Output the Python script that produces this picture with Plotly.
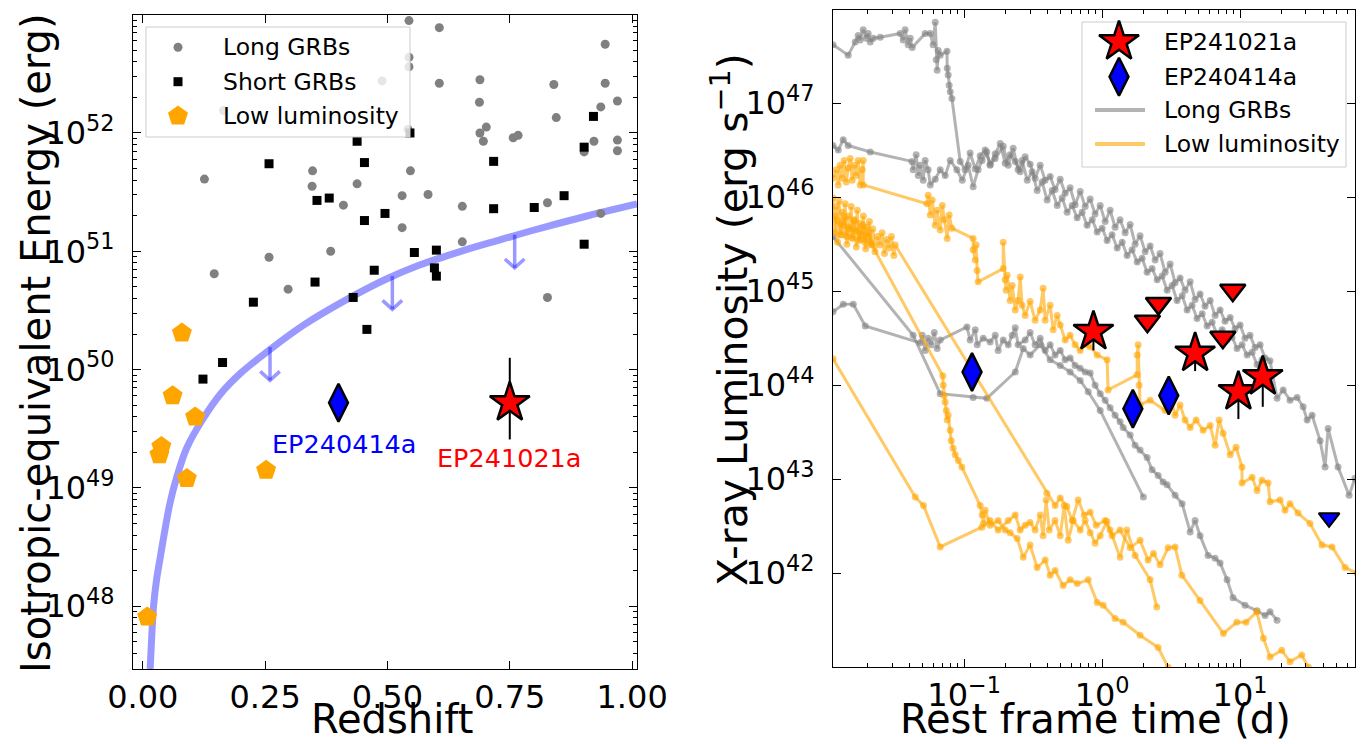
import plotly.graph_objects as go

# The page body adds an 8 px margin; the figure is sized so that it fills the 1366x744 window.
PAGE_W, PAGE_H, OFF = 1366, 744, 8
W, H = PAGE_W - OFF, PAGE_H - OFF

# ======================= LEFT PANEL DATA (redshift, log10 E_iso) =======================
long_z = [0.126, 0.347, 0.346, 0.438, 0.410, 0.384, 0.258, 0.165, 0.489, 0.544, 0.606, 0.544,
          0.544, 0.606, 0.689, 0.688, 0.702, 0.689, 0.696, 0.757, 0.767, 0.840, 0.845, 0.945,
          0.945, 0.970, 0.936, 0.922, 0.970, 0.970, 0.902, 0.547, 0.530, 0.583, 0.653, 0.827,
          0.936, 0.530, 0.653, 0.542, 0.146, 0.297, 0.827]
long_logE = [51.61, 51.68, 51.55, 51.57, 51.39, 51.00, 50.95, 52.19, 52.44, 52.95, 52.89, 52.64,
             52.56, 52.42, 52.45, 52.26, 52.05, 52.00, 51.93, 51.96, 51.98, 52.41, 52.13, 52.75,
             52.42, 52.27, 52.22, 51.93, 51.94, 51.85, 51.84, 51.68, 51.47, 51.48, 51.38, 51.41,
             51.32, 51.20, 51.08, 52.03, 50.81, 50.68, 50.61]

short_z = [0.258, 0.438, 0.453, 0.356, 0.381, 0.453, 0.495, 0.546, 0.717, 0.921, 0.902, 0.861,
           0.800, 0.717, 0.555, 0.600, 0.902, 0.226, 0.352, 0.430, 0.458, 0.473, 0.596, 0.600,
           0.163, 0.123]
short_logE = [51.74, 51.93, 51.75, 51.43, 51.45, 51.26, 51.32, 52.00, 51.76, 52.14, 51.88, 51.47,
              51.37, 51.36, 50.99, 51.01, 51.06, 50.57, 50.74, 50.61, 50.34, 50.84, 50.86, 50.79,
              50.06, 49.92]

lowlum_z = [0.080, 0.061, 0.107, 0.038, 0.034, 0.090, 0.252, 0.009]
lowlum_logE = [50.31, 49.78, 49.60, 49.35, 49.28, 49.08, 49.15, 47.91]

limit_curve_z = [0.015, 0.018, 0.022, 0.028, 0.036, 0.045, 0.056, 0.07, 0.09, 0.121,
                 0.16, 0.2, 0.26, 0.33, 0.42, 0.5, 0.563, 0.65, 0.733, 0.8, 0.9, 1.01]
limit_curve_logE = [47.47, 47.72, 48.0, 48.22, 48.42, 48.64, 48.88, 49.10, 49.34, 49.57,
                    49.80, 49.97, 50.17, 50.38, 50.60, 50.77, 50.88, 51.00, 51.10, 51.18, 51.29, 51.40]

limit_arrow_z = [0.26, 0.51, 0.76]
limit_arrow_logE = [50.19, 50.79, 51.14]
limit_arrow_len = 0.28  # dex

ep241021a_z, ep241021a_logE = 0.75, 49.72
ep241021a_logE_lo, ep241021a_logE_hi = 49.41, 50.10
ep240414a_z, ep240414a_logE = 0.40, 49.72

# ======================= RIGHT PANEL DATA (log10 t [d], log10 L_X) =======================
long_grb_1 = [(-1.951, 47.62), (-1.841, 47.51), (-1.790, 47.65), (-1.768, 47.72), (-1.754, 47.67),
    (-1.732, 47.78), (-1.710, 47.69), (-1.696, 47.74), (-1.681, 47.65), (-1.659, 47.69), (-1.609, 47.70),
    (-1.464, 47.74), (-1.442, 47.67), (-1.428, 47.78), (-1.406, 47.62), (-1.391, 47.69), (-1.377, 47.59),
    (-1.283, 47.74), (-1.246, 47.74), (-1.225, 47.62), (-1.210, 47.86), (-1.203, 47.46), (-1.196, 47.35),
    (-1.188, 47.56), (-1.174, 47.51), (-1.125, 47.55), (-1.123, 47.37), (-1.116, 47.30), (-1.109, 47.19),
    (-1.101, 47.12), (-1.089, 47.05), (-1.029, 46.38), (-0.993, 46.29), (-0.957, 46.47), (-0.920, 46.30),
    (-0.884, 46.44), (-0.848, 46.50), (-0.812, 46.35), (-0.775, 46.46), (-0.739, 46.57), (-0.703, 46.36),
    (-0.667, 46.45), (-0.630, 46.38), (-0.594, 46.27), (-0.558, 46.43), (-0.522, 46.35), (-0.486, 46.20),
    (-0.449, 46.34), (-0.413, 46.18), (-0.377, 46.22), (-0.341, 46.08), (-0.304, 46.19), (-0.268, 46.04),
    (-0.232, 46.10), (-0.196, 45.92), (-0.159, 46.06), (-0.123, 45.90), (-0.087, 45.98), (-0.051, 45.82),
    (-0.014, 45.91), (0.022, 45.74), (0.058, 45.86), (0.094, 45.68), (0.130, 45.76), (0.167, 45.62),
    (0.203, 45.71), (0.239, 45.50), (0.275, 45.59), (0.312, 45.42), (0.348, 45.48), (0.384, 45.33),
    (0.420, 45.40), (0.457, 45.20), (0.493, 45.29), (0.529, 45.09), (0.565, 45.14), (0.601, 45.01),
    (0.638, 45.10), (0.674, 44.91), (0.710, 44.97), (0.746, 44.84), (0.783, 44.90), (0.819, 44.74),
    (0.855, 44.80), (0.891, 44.68), (0.928, 44.72), (0.964, 44.60), (1.000, 44.64), (1.036, 44.50),
    (1.072, 44.53), (1.109, 44.40), (1.145, 44.43), (1.181, 44.29), (1.217, 44.26), (1.268, 43.86),
    (1.312, 43.95), (1.362, 43.84), (1.413, 43.87), (1.457, 43.77), (1.486, 43.63), (1.522, 43.68),
    (1.580, 43.41), (1.616, 43.13), (1.638, 43.54), (1.710, 43.13), (1.790, 42.83), (1.833, 43.01)]

long_grb_2 = [(-1.951, 46.55), (-1.913, 46.50), (-1.877, 46.61), (-1.841, 46.55), (-1.681, 46.48),
    (-1.379, 46.38), (-1.370, 46.29), (-1.348, 46.45), (-1.333, 46.23), (-1.319, 46.34), (-1.297, 46.18),
    (-1.283, 46.39), (-1.261, 46.29), (-1.246, 46.13), (-1.210, 46.19), (-1.174, 46.29), (-1.138, 46.23),
    (-1.101, 46.39), (-1.053, 46.29), (-1.014, 46.18), (-0.971, 46.34), (-0.935, 46.11), (-0.899, 46.29),
    (-0.870, 46.39), (-0.836, 46.48), (-0.812, 46.34), (-0.775, 46.41), (-0.717, 46.54), (-0.681, 46.34),
    (-0.645, 46.52), (-0.609, 46.29), (-0.580, 46.39), (-0.543, 46.18), (-0.507, 46.27), (-0.471, 46.07),
    (-0.435, 46.16), (-0.399, 45.97), (-0.362, 46.07), (-0.326, 45.91), (-0.290, 45.99), (-0.254, 45.84),
    (-0.217, 45.91), (-0.181, 45.78), (-0.145, 45.84), (-0.109, 45.70), (-0.072, 45.76), (-0.036, 45.63),
    (0.000, 45.67), (0.036, 45.54), (0.072, 45.60), (0.109, 45.46), (0.145, 45.52), (0.181, 45.38),
    (0.217, 45.44), (0.254, 45.31), (0.290, 45.35), (0.326, 45.20), (0.362, 45.24), (0.399, 45.12),
    (0.435, 45.16), (0.471, 45.01), (0.507, 45.06), (0.543, 44.90), (0.580, 44.95), (0.616, 44.80),
    (0.652, 44.85), (0.688, 44.71), (0.725, 44.76), (0.761, 44.63), (0.797, 44.67), (0.833, 44.54),
    (0.870, 44.59), (0.906, 44.48), (0.942, 44.51), (0.978, 44.39), (1.014, 44.43), (1.051, 44.32),
    (1.087, 44.35), (1.123, 44.22), (1.159, 44.27), (1.203, 44.14)]

long_grb_3 = [(-1.951, 44.78), (-1.877, 44.86), (-1.804, 44.86), (-1.717, 44.63), (-1.319, 44.45),
    (-1.304, 44.53), (-1.283, 44.37), (-1.261, 44.50), (-1.239, 44.43), (-1.217, 44.56), (-1.196, 44.39),
    (-1.174, 44.48), (-0.980, 44.62), (-0.957, 44.48), (-0.920, 44.59), (-0.906, 44.43), (-0.862, 44.50),
    (-0.812, 44.46), (-0.775, 44.53), (-0.754, 44.37), (-0.717, 44.48), (-0.681, 44.43), (-0.652, 44.53),
    (-0.630, 44.61), (-0.609, 44.43), (-0.558, 44.48), (-0.522, 44.56), (-0.486, 44.43), (-0.449, 44.50),
    (-0.413, 44.37), (-0.377, 44.43), (-0.341, 44.32), (-0.304, 44.37), (-0.268, 44.27), (-0.232, 44.29),
    (-0.196, 44.21), (-0.159, 44.18), (-0.123, 44.14), (-0.087, 44.13), (-0.051, 44.00), (-0.014, 43.91),
    (0.022, 43.84), (0.058, 43.76), (0.094, 43.68), (0.130, 43.61), (0.152, 43.55), (0.203, 43.47),
    (0.239, 43.36), (0.275, 43.31), (0.326, 43.23), (0.362, 43.10), (0.406, 43.04), (0.442, 42.97),
    (0.471, 42.94), (0.529, 42.83), (0.580, 42.74), (0.638, 42.44), (0.674, 42.56), (0.710, 42.40),
    (0.768, 42.19), (0.819, 42.16), (0.855, 42.11), (0.906, 41.93), (0.949, 41.74), (1.036, 41.66),
    (1.123, 41.60), (1.181, 41.55), (1.217, 41.59), (1.268, 41.50)]

long_grb_4 = [(-1.951, 45.58), (-1.370, 44.53), (-1.174, 43.91), (-0.935, 43.87), (-0.836, 43.86),
    (-0.630, 44.14), (-0.572, 44.39), (-0.522, 44.32), (-0.449, 44.43), (-0.377, 44.27), (-0.304, 44.21),
    (-0.232, 44.14), (-0.159, 44.05), (-0.101, 43.93), (-0.014, 43.73), (0.299, 42.81)]

lowlum_1 = [(-1.951, 46.20), (-1.928, 46.29), (-1.913, 46.13), (-1.899, 46.34), (-1.884, 46.20),
    (-1.870, 46.39), (-1.855, 46.16), (-1.841, 46.31), (-1.826, 46.41), (-1.812, 46.18), (-1.797, 46.34),
    (-1.783, 46.23), (-1.768, 46.39), (-1.754, 46.13), (-1.739, 46.29), (-1.732, 46.39), (-1.732, 46.13),
    (-1.270, 45.93), (-1.261, 46.02), (-1.246, 45.81), (-1.232, 45.97), (-1.210, 45.70), (-1.196, 45.86),
    (-1.174, 45.65), (-1.159, 45.91), (-1.145, 45.76), (-1.123, 45.56), (-1.109, 45.81), (-1.089, 45.67),
    (-0.935, 45.56), (-0.935, 45.44), (-0.920, 45.33), (-0.913, 45.49), (-0.906, 45.22), (-0.899, 45.10),
    (-0.717, 45.24), (-0.717, 45.52), (-0.703, 45.12), (-0.696, 45.01), (-0.688, 45.17), (-0.667, 44.90),
    (-0.652, 45.06), (-0.630, 44.80), (-0.609, 44.90), (-0.594, 45.15), (-0.580, 44.85), (-0.558, 44.74),
    (-0.522, 44.89), (-0.486, 44.69), (-0.449, 44.80), (-0.428, 45.03), (-0.413, 44.69), (-0.377, 44.85),
    (-0.355, 44.59), (-0.326, 44.74), (-0.304, 44.64), (-0.268, 44.48), (-0.232, 44.53), (-0.196, 44.43),
    (-0.159, 44.37), (-0.123, 44.43), (-0.087, 44.41), (-0.036, 44.32), (0.036, 44.27), (0.043, 43.95),
    (0.254, 44.11), (0.254, 44.32), (0.261, 44.43), (0.268, 44.00), (0.275, 43.79), (0.348, 43.84),
    (0.457, 43.73), (0.493, 43.89), (0.529, 43.68), (0.565, 43.79), (0.601, 43.63), (0.638, 43.55),
    (0.681, 43.63), (0.732, 43.52), (0.783, 43.57), (0.819, 43.36), (0.848, 43.63), (0.877, 43.49),
    (0.928, 43.26), (0.971, 43.34), (1.014, 43.13), (1.014, 42.96), (1.087, 43.02), (1.123, 42.88),
    (1.159, 42.99), (1.203, 42.96), (1.217, 42.76), (1.290, 42.78), (1.326, 42.67), (1.362, 42.74),
    (1.420, 42.64), (1.507, 42.53), (1.594, 42.30), (1.667, 42.28), (1.761, 42.06), (1.848, 42.00)]

lowlum_2 = [(-1.951, 45.99), (-1.940, 45.62), (-1.929, 45.90), (-1.918, 45.75), (-1.907, 45.96),
    (-1.896, 45.60), (-1.885, 45.84), (-1.874, 45.70), (-1.863, 45.93), (-1.852, 45.58), (-1.841, 45.80),
    (-1.830, 45.66), (-1.819, 45.90), (-1.808, 45.56), (-1.797, 45.76), (-1.786, 45.64), (-1.775, 45.86),
    (-1.764, 45.54), (-1.753, 45.72), (-1.742, 45.60), (-1.731, 45.80), (-1.720, 45.52), (-1.709, 45.68),
    (-1.698, 45.58), (-1.687, 45.74), (-1.676, 45.50), (-1.669, 45.49),
    (-1.155, 44.10), (-1.152, 44.00), (-1.145, 43.89), (-1.138, 43.82), (-1.130, 43.73), (-1.123, 43.63),
    (-1.116, 43.68), (-1.101, 43.52), (-1.094, 43.41), (-1.080, 43.33), (-1.065, 43.26), (-1.043, 43.20),
    (-1.017, 43.13), (-0.884, 42.72), (-0.870, 42.62), (-0.860, 42.53), (-0.848, 42.67), (-0.812, 42.51),
    (-0.754, 42.56), (-0.703, 42.46), (-0.667, 42.43), (-0.616, 42.37), (-0.572, 42.17), (-0.522, 42.30),
    (-0.471, 42.06), (-0.413, 42.14), (-0.377, 41.98), (-0.341, 42.03), (-0.283, 41.87), (-0.232, 41.93),
    (-0.181, 41.89), (-0.101, 41.93), (-0.036, 41.69), (0.007, 41.66), (0.094, 41.52), (0.152, 41.48),
    (0.275, 41.34), (0.406, 41.21), (0.478, 41.00)]

lowlum_3 = [(-1.935, 45.80), (-1.918, 45.52), (-1.901, 45.72), (-1.884, 45.60), (-1.867, 45.78),
    (-1.850, 45.50), (-1.833, 45.68), (-1.816, 45.57), (-1.799, 45.75), (-1.782, 45.47), (-1.765, 45.65),
    (-1.748, 45.55), (-1.731, 45.70), (-1.714, 45.45), (-1.697, 45.62), (-1.680, 45.52), (-1.663, 45.66),
    (-1.646, 45.42), (-1.629, 45.58), (-1.612, 45.49), (-1.595, 45.62), (-1.578, 45.40), (-1.561, 45.55),
    (-1.544, 45.46), (-1.527, 45.58), (-1.510, 45.38), (-1.500, 45.49),
    (-0.401, 42.85), (-0.341, 42.72), (-0.304, 42.80), (-0.256, 42.71), (-0.217, 42.56), (-0.174, 42.78),
    (-0.130, 42.62), (-0.087, 42.65), (-0.043, 42.51), (0.022, 42.56), (0.072, 42.40), (0.130, 42.46),
    (0.203, 42.27), (0.275, 42.35), (0.333, 42.14), (0.372, 42.21), (0.420, 42.09), (0.478, 42.27),
    (0.529, 42.28), (0.578, 41.98), (0.710, 41.71), (0.879, 41.36), (0.976, 41.48), (1.043, 41.48),
    (1.121, 41.59), (1.169, 41.31), (1.217, 41.11), (1.302, 41.18), (1.362, 41.06), (1.447, 41.13),
    (1.495, 41.00)]

lowlum_4 = [(-1.951, 44.28), (-1.355, 42.81), (-1.295, 42.72), (-1.174, 42.28), (-0.872, 42.49),
    (-0.812, 42.56), (-0.754, 42.46), (-0.681, 42.56), (-0.630, 42.62), (-0.594, 42.46), (-0.558, 42.51),
    (-0.522, 42.54), (-0.486, 42.46), (-0.449, 42.62), (-0.428, 42.40), (-0.406, 42.78), (-0.384, 42.46),
    (-0.341, 42.56), (-0.304, 42.40), (-0.275, 42.72), (-0.246, 42.35), (-0.210, 42.56), (-0.159, 42.46),
    (-0.123, 42.56), (-0.087, 42.43), (-0.051, 42.32), (-0.014, 42.40), (0.034, 42.55), (0.058, 42.46),
    (0.130, 42.17), (0.179, 42.46), (0.239, 42.19), (0.348, 41.93), (0.396, 41.64)]

long_grb_curves = [long_grb_1, long_grb_2, long_grb_3, long_grb_4]
lowlum_curves = [lowlum_1, lowlum_2, lowlum_3, lowlum_4]

ep241021a_t = [0.865, 4.72, 9.72, 14.6]
ep241021a_logL = [44.57, 44.34, 43.93, 44.09]
ep241021a_logL_lo = [44.37, 44.15, 43.64, 43.77]
ep241021a_ul_t = [2.13, 2.56, 8.85, 7.5]
ep241021a_ul_logL = [44.68, 44.87, 45.01, 44.51]
ep240414a_t = [0.114, 1.67, 3.04]
ep240414a_logL = [44.14, 43.75, 43.89]
ep240414a_ul_t = [44.2]
ep240414a_ul_logL = [42.59]

left_xticks = [0.0, 0.25, 0.5, 0.75, 1.0]
left_yticks = [48, 49, 50, 51, 52]
right_xticks = [-1, 0, 1]
right_yticks = [42, 43, 44, 45, 46, 47]


def sup_label(p):
    s = str(p) if p >= 0 else "\u2212" + str(-p)
    return "10<sup>" + s + "</sup>"


def lin(v):
    return [10.0 ** a for a in v]


def dom_x(p0, p1):   # page-pixel span -> paper domain
    return [(p0 - OFF) / W, (p1 - OFF) / W]


def dom_y(top, bottom):
    return [1 - (bottom - OFF) / H, 1 - (top - OFF) / H]


GRAY_A = "rgba(128,128,128,0.6)"
ORANGE_A = "rgba(255,165,0,0.6)"
LIMIT_BLUE = "rgba(0,0,255,0.4)"
FONT = "DejaVu Sans"

fig = go.Figure()

# ---------------- Left panel ----------------
fig.add_trace(go.Scatter(x=limit_curve_z, y=lin(limit_curve_logE), mode="lines",
                         line=dict(color=LIMIT_BLUE, width=7, shape="spline", smoothing=1.0),
                         xaxis="x", yaxis="y", hoverinfo="skip"))
arm_dz, arm_dy = 0.02, 0.075
ax_x, ax_y = [], []
for z, top in zip(limit_arrow_z, limit_arrow_logE):
    tip = top - limit_arrow_len
    ax_x += [z, z, None, z - arm_dz, z, z + arm_dz, None]
    ax_y += [10.0 ** top, 10.0 ** tip, None, 10.0 ** (tip + arm_dy), 10.0 ** tip, 10.0 ** (tip + arm_dy), None]
fig.add_trace(go.Scatter(x=ax_x, y=ax_y, mode="lines", line=dict(color=LIMIT_BLUE, width=3.5),
                         xaxis="x", yaxis="y", hoverinfo="skip"))

fig.add_trace(go.Scatter(x=long_z, y=lin(long_logE), mode="markers",
                         marker=dict(symbol="circle", size=9, color="#808080"), xaxis="x", yaxis="y"))
fig.add_trace(go.Scatter(x=short_z, y=lin(short_logE), mode="markers",
                         marker=dict(symbol="square", size=9, color="black"), xaxis="x", yaxis="y"))
fig.add_trace(go.Scatter(x=lowlum_z, y=lin(lowlum_logE), mode="markers",
                         marker=dict(symbol="pentagon", size=21, color="#FFA500"), xaxis="x", yaxis="y"))
fig.add_trace(go.Scatter(x=[ep240414a_z], y=[10.0 ** ep240414a_logE], mode="markers",
                         marker=dict(symbol="diamond-tall", size=27, color="#0000ff",
                                     line=dict(color="black", width=2.5)), xaxis="x", yaxis="y"))
fig.add_trace(go.Scatter(x=[ep241021a_z], y=[10.0 ** ep241021a_logE], mode="markers",
                         marker=dict(symbol="star", size=30, color="#ff0000",
                                     line=dict(color="black", width=2.5)),
                         error_y=dict(type="data", symmetric=False,
                                      array=[10.0 ** ep241021a_logE_hi - 10.0 ** ep241021a_logE],
                                      arrayminus=[10.0 ** ep241021a_logE - 10.0 ** ep241021a_logE_lo],
                                      color="black", thickness=2, width=0),
                         xaxis="x", yaxis="y"))

# ---------------- Right panel ----------------
for c in long_grb_curves:
    fig.add_trace(go.Scatter(x=[10.0 ** p[0] for p in c], y=[10.0 ** p[1] for p in c], mode="lines+markers",
                             line=dict(color=GRAY_A, width=3), marker=dict(size=7, color=GRAY_A),
                             xaxis="x2", yaxis="y2", hoverinfo="skip"))
for c in lowlum_curves:
    fig.add_trace(go.Scatter(x=[10.0 ** p[0] for p in c], y=[10.0 ** p[1] for p in c], mode="lines+markers",
                             line=dict(color=ORANGE_A, width=3), marker=dict(size=7, color=ORANGE_A),
                             xaxis="x2", yaxis="y2", hoverinfo="skip"))

fig.add_trace(go.Scatter(x=ep241021a_ul_t, y=lin(ep241021a_ul_logL), mode="markers",
                         marker=dict(symbol="triangle-down", size=22, color="#ff0000",
                                     line=dict(color="black", width=2.5)), xaxis="x2", yaxis="y2"))
fig.add_trace(go.Scatter(x=ep240414a_ul_t, y=lin(ep240414a_ul_logL), mode="markers",
                         marker=dict(symbol="triangle-down", size=18, color="#0000ff",
                                     line=dict(color="black", width=2)), xaxis="x2", yaxis="y2"))
fig.add_trace(go.Scatter(x=ep240414a_t, y=lin(ep240414a_logL), mode="markers",
                         marker=dict(symbol="diamond-tall", size=27, color="#0000ff",
                                     line=dict(color="black", width=2.5)), xaxis="x2", yaxis="y2"))
fig.add_trace(go.Scatter(x=ep241021a_t, y=lin(ep241021a_logL), mode="markers",
                         marker=dict(symbol="star", size=30, color="#ff0000",
                                     line=dict(color="black", width=2.5)),
                         error_y=dict(type="data", symmetric=False,
                                      array=[0.0 for _ in ep241021a_logL],
                                      arrayminus=[10.0 ** a - 10.0 ** b for a, b in zip(ep241021a_logL, ep241021a_logL_lo)],
                                      color="black", thickness=2, width=0),
                         xaxis="x2", yaxis="y2"))

# ---------------- Custom legends (overlay axis in page-pixel units) ----------------
def box_trace(x0, y0, x1, y1):
    return go.Scatter(x=[x0, x1, x1, x0, x0], y=[y0, y0, y1, y1, y0], mode="lines", fill="toself",
                      fillcolor="rgba(255,255,255,0.8)", line=dict(color="#cccccc", width=1),
                      xaxis="x3", yaxis="y3", hoverinfo="skip")

fig.add_trace(box_trace(146, 27, 410, 137))
leg_left_rows = [47.3, 81.7, 116]
fig.add_trace(go.Scatter(x=[178], y=[leg_left_rows[0]], mode="markers",
                         marker=dict(symbol="circle", size=9, color="#808080"), xaxis="x3", yaxis="y3"))
fig.add_trace(go.Scatter(x=[178], y=[leg_left_rows[1]], mode="markers",
                         marker=dict(symbol="square", size=9, color="black"), xaxis="x3", yaxis="y3"))
fig.add_trace(go.Scatter(x=[178], y=[leg_left_rows[2]], mode="markers",
                         marker=dict(symbol="pentagon", size=21, color="#FFA500"), xaxis="x3", yaxis="y3"))

fig.add_trace(box_trace(1082, 22, 1346, 167))
leg_right_rows = [41.7, 76.7, 110, 144]
fig.add_trace(go.Scatter(x=[1119], y=[leg_right_rows[0]], mode="markers",
                         marker=dict(symbol="star", size=30, color="#ff0000",
                                     line=dict(color="black", width=2.5)), xaxis="x3", yaxis="y3"))
fig.add_trace(go.Scatter(x=[1119], y=[leg_right_rows[1]], mode="markers",
                         marker=dict(symbol="diamond-tall", size=27, color="#0000ff",
                                     line=dict(color="black", width=2.5)), xaxis="x3", yaxis="y3"))
fig.add_trace(go.Scatter(x=[1095, 1145], y=[leg_right_rows[2]] * 2, mode="lines",
                         line=dict(color=GRAY_A, width=4), xaxis="x3", yaxis="y3"))
fig.add_trace(go.Scatter(x=[1095, 1145], y=[leg_right_rows[3]] * 2, mode="lines",
                         line=dict(color=ORANGE_A, width=4), xaxis="x3", yaxis="y3"))

annotations = []
for txt, yy in zip(["Long GRBs", "Short GRBs", "Low luminosity"], leg_left_rows):
    annotations.append(dict(x=221, y=yy, xref="x3", yref="y3", text=txt, showarrow=False,
                            xanchor="left", yanchor="middle", font=dict(size=23.5, family=FONT, color="black")))
for txt, yy in zip(["EP241021a", "EP240414a", "Long GRBs", "Low luminosity"], leg_right_rows):
    annotations.append(dict(x=1162, y=yy, xref="x3", yref="y3", text=txt, showarrow=False,
                            xanchor="left", yanchor="middle", font=dict(size=23.5, family=FONT, color="black")))

# Point labels (left panel)
annotations.append(dict(x=0.411, y=49.37, xref="x", yref="y", text="EP240414a", showarrow=False,
                        font=dict(size=25.5, family=FONT, color="#0000ff")))
annotations.append(dict(x=0.748, y=49.25, xref="x", yref="y", text="EP241021a", showarrow=False,
                        font=dict(size=25.5, family=FONT, color="#ff0000")))

# Axis titles
TITLE = dict(size=40, family=FONT, color="black")
annotations.append(dict(x=392, y=719, xref="x3", yref="y3", text="Redshift", showarrow=False, font=TITLE))
annotations.append(dict(x=36, y=343, xref="x3", yref="y3", text="Isotropic-equivalent Energy (erg)",
                        textangle=-90, showarrow=False, font=TITLE))
annotations.append(dict(x=1095, y=719, xref="x3", yref="y3", text="Rest frame time (d)", showarrow=False, font=TITLE))
annotations.append(dict(x=730, y=320, xref="x3", yref="y3", text="X-ray Luminosity (erg s<sup>\u22121</sup>)",
                        textangle=-90, showarrow=False, font=dict(size=41, family=FONT, color="black")))

common = dict(showline=True, linecolor="black", linewidth=1, mirror="allticks", ticks="inside",
              ticklen=8, tickwidth=1, tickcolor="black", showgrid=False, zeroline=False, automargin=False,
              tickfont=dict(size=32, family=FONT, color="black"))
minor = dict(ticks="inside", ticklen=4, tickwidth=1, tickcolor="black", dtick="D1", showgrid=False)

fig.update_layout(
    width=W, height=H, margin=dict(l=0, r=0, t=0, b=0, autoexpand=False),
    paper_bgcolor="white", plot_bgcolor="rgba(0,0,0,0)", showlegend=False,
    font=dict(family=FONT, color="black"),
    xaxis=dict(domain=dom_x(133, 637), range=[-0.02, 1.01], tickmode="array",
               tickvals=left_xticks, ticktext=["%.2f" % v for v in left_xticks], anchor="y",
               ticklabelstandoff=0, **common),
    yaxis=dict(domain=dom_y(15, 669), type="log", range=[47.47, 52.997], tickmode="array",
               tickvals=[10.0 ** p for p in left_yticks], ticktext=[sup_label(p) for p in left_yticks],
               minor=minor, anchor="x", ticklabelstandoff=11, **common),
    xaxis2=dict(domain=dom_x(833, 1355), type="log", range=[-1.951, 1.833], tickmode="array",
                tickvals=[10.0 ** p for p in right_xticks], ticktext=[sup_label(p) for p in right_xticks],
                minor=minor, anchor="y2", ticklabelstandoff=0, **common),
    yaxis2=dict(domain=dom_y(10, 667), type="log", range=[41.003, 47.99], tickmode="array",
                tickvals=[10.0 ** p for p in right_yticks], ticktext=[sup_label(p) for p in right_yticks],
                anchor="x2", ticklabelstandoff=11, **common),
    xaxis3=dict(domain=[0, 1], range=[OFF, PAGE_W], visible=False, anchor="y3", fixedrange=True, automargin=False),
    yaxis3=dict(domain=[0, 1], range=[PAGE_H, OFF], visible=False, anchor="x3", fixedrange=True, automargin=False),
    annotations=annotations,
)

fig.write_html("out.html")
